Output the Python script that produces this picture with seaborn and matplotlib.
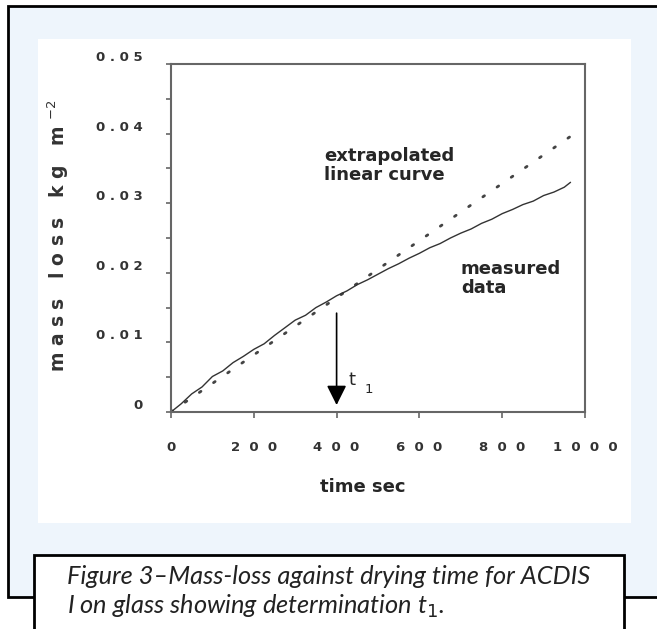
import matplotlib
matplotlib.use("Agg")
import matplotlib.pyplot as plt
from matplotlib.patches import Rectangle
import numpy as np
import pandas as pd
import seaborn as sns

# ---- data ----
time_measured = [0, 25, 50, 75, 100, 125, 150, 175, 200, 225, 250, 275, 300, 325, 350,
                 375, 400, 425, 450, 475, 500, 525, 550, 575, 600, 625, 650, 675, 700,
                 725, 750, 775, 800, 825, 850, 875, 900, 925, 950, 965]
mass_measured = [0.0, 0.0012, 0.0026, 0.0036, 0.0051, 0.0059, 0.0071, 0.0080, 0.0090,
                 0.0098, 0.0110, 0.0121, 0.0132, 0.0139, 0.0150, 0.0158, 0.0167, 0.0174,
                 0.0183, 0.0190, 0.0198, 0.0206, 0.0213, 0.0221, 0.0228, 0.0236, 0.0242,
                 0.0250, 0.0257, 0.0263, 0.0271, 0.0277, 0.0285, 0.0291, 0.0298, 0.0303,
                 0.0311, 0.0316, 0.0323, 0.0330]
time_linear = [0, 965]
mass_linear = [0.0, 0.0396]

x_ticks = [0, 200, 400, 600, 800, 1000]
y_ticks = [0, 0.01, 0.02, 0.03, 0.04, 0.05]
y_minor = [0.005, 0.015, 0.025, 0.035, 0.045]
t1_time = 400

W, H = 657, 629
def fx(x): return x / W
def fy(y): return 1 - y / H

sns.set_style("white")
fig = plt.figure(figsize=(6.57, 6.29), dpi=100)
fig.patch.set_facecolor("white")

# outer light-blue frame
fig.patches.append(Rectangle((fx(8), fy(597)), fx(700 - 8), fy(6) - fy(597),
                             transform=fig.transFigure, facecolor="#eef5fc",
                             edgecolor="black", linewidth=2.0, zorder=0))
# white panel behind the chart
fig.patches.append(Rectangle((fx(38), fy(523)), fx(631 - 38), fy(39) - fy(523),
                             transform=fig.transFigure, facecolor="white",
                             edgecolor="none", zorder=1))
# caption box
fig.patches.append(Rectangle((fx(34), fy(680)), fx(624 - 34), fy(555) - fy(680),
                             transform=fig.transFigure, facecolor="white",
                             edgecolor="black", linewidth=2.0, zorder=2))

ax = fig.add_axes([fx(171), fy(412), fx(585) - fx(171), fy(64) - fy(412)])
ax.set_zorder(10)
ax.set_facecolor("white")
ax.patch.set_alpha(0)

df_m = pd.DataFrame({"time": time_measured, "mass": mass_measured})
df_l = pd.DataFrame({"time": time_linear, "mass": mass_linear})
sns.lineplot(data=df_l, x="time", y="mass", ax=ax, color="#444444", lw=2.0,
             linestyle=(0, (0.7, 5.5)), dash_capstyle="round")
sns.lineplot(data=df_m, x="time", y="mass", ax=ax, color="#333333", lw=1.0)

ax.set_xlim(0, 1000)
ax.set_ylim(0, 0.05)
ax.set_xticks(x_ticks)
ax.set_xticklabels(["  ".join(str(v)) for v in x_ticks])
ax.set_yticks(y_ticks)
ax.set_yticks(y_minor, minor=True)
ax.set_yticklabels(["0" if v == 0 else " ".join(f"{v:.2f}") for v in y_ticks])
ax.set_xlabel("")
ax.set_ylabel("")

for s in ax.spines.values():
    s.set_visible(True)
    s.set_color("#666666")
    s.set_linewidth(1.5)

ax.tick_params(axis="x", which="both", direction="out", length=4, width=1.2,
               color="#666666", pad=17, labelsize=9.5, labelcolor="#333333",
               bottom=True)
ax.tick_params(axis="y", which="both", direction="out", length=3.5, width=1.2,
               color="#666666", pad=17, labelsize=9.5, labelcolor="#333333",
               left=True)
for lab in ax.get_xticklabels() + ax.get_yticklabels():
    lab.set_fontfamily("DejaVu Sans")
    lab.set_fontweight("bold")
for lab in ax.get_yticklabels():
    lab.set_va("bottom")

# arrow for t1
ax.annotate("", xy=(t1_time, 0.0010), xytext=(t1_time, 0.0142),
            arrowprops=dict(arrowstyle="-|>,head_length=0.6,head_width=0.3",
                            color="black", lw=1.2, mutation_scale=20,
                            shrinkA=0, shrinkB=0))
ax.text(438, 0.0046, "t", fontsize=13, ha="center", va="center",
        family="DejaVu Sans")
ax.text(479, 0.0033, "1", fontsize=9.5, ha="center", va="center", family="DejaVu Sans")

ax.text(370, 0.0381, "extrapolated\nlinear curve", fontsize=13, fontweight="bold",
        ha="left", va="top", linespacing=1.05, family="DejaVu Sans")
ax.text(700, 0.0218, "measured\ndata", fontsize=13, fontweight="bold",
        ha="left", va="top", linespacing=1.05, family="DejaVu Sans")

fig.text(fx(363), fy(487), "time sec", fontsize=13, fontweight="bold",
         ha="center", va="center", family="DejaVu Sans", zorder=5)
fig.text(fx(58), fy(236), "m a s s   l o s s   k g   m $^{-2}$", fontsize=13.5,
         fontweight="bold", rotation=90, ha="center", va="center",
         family="DejaVu Sans", color="#333333", zorder=5)

fig.text(fx(67), fy(577), "Figure 3\u2013Mass-loss against drying time for ACDIS",
         fontsize=18.3, style="italic", ha="left", va="center", family="Lato",
         color="#222222", zorder=5)
fig.text(fx(67), fy(606), "I on glass showing determination t$_{1}$.",
         fontsize=18.3, style="italic", ha="left", va="center", family="Lato",
         color="#222222", zorder=5)

fig.savefig("out.png", dpi=100, facecolor=fig.get_facecolor())
